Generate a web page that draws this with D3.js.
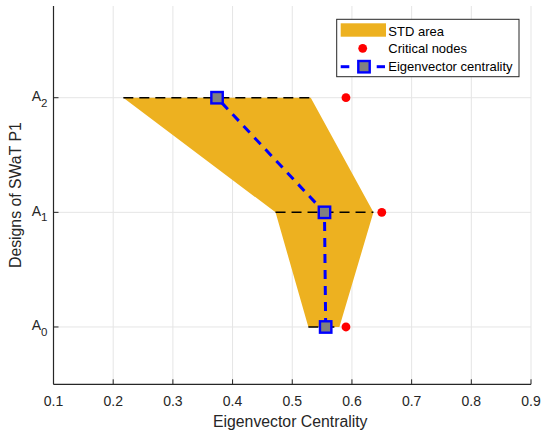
<!DOCTYPE html>
<html>
<head>
<meta charset="utf-8">
<script src="https://cdn.jsdelivr.net/npm/d3@7"></script>
<style>
  html, body { margin: 0; padding: 0; background: #fff; }
  svg { display: block; font-family: "Liberation Sans", Arial, Helvetica, sans-serif; }
</style>
</head>
<body>
<svg id="chart" width="544" height="435"></svg>
<script>
// ---- data ----
const designLevels = [0, 1, 2];
const designBase = ["A", "A", "A"];
const designSub = ["0", "1", "2"];
const meanEC = [0.556, 0.554, 0.374];        // Eigenvector centrality (mean)
const stdLow = [0.527, 0.472, 0.217];        // mean - std
const stdHigh = [0.579, 0.636, 0.531];       // mean + std
const criticalEC = [0.59, 0.65, 0.59];       // Critical nodes
const xTicks = [0.1, 0.2, 0.3, 0.4, 0.5, 0.6, 0.7, 0.8, 0.9];
const xDomain = [0.1, 0.9];
const yDomain = [-0.5, 2.8];
const legendLabels = ["STD area", "Critical nodes", "Eigenvector centrality"];

(function () {
// ---- layout ----
const svg = d3.select("#chart");
const pL = 53.5, pR = 531, pT = 6, pB = 384.3;
const x = d3.scaleLinear().domain(xDomain).range([pL, pR]);
const y = d3.scaleLinear().domain(yDomain).range([pB, pT]);
const textColor = "#262626";
const gridColor = "#e5e5e5";
const stdColor = "#EDB120";

// grid
const grid = svg.append("g");
grid.selectAll(".gx").data(xTicks).enter().append("line")
  .attr("x1", d => x(d)).attr("x2", d => x(d))
  .attr("y1", pT).attr("y2", pB)
  .attr("stroke", gridColor).attr("stroke-width", 1);
grid.selectAll(".gy").data(designLevels).enter().append("line")
  .attr("x1", pL).attr("x2", pR)
  .attr("y1", d => y(d)).attr("y2", d => y(d))
  .attr("stroke", gridColor).attr("stroke-width", 1);

// STD area polygon
const polyPts = designLevels.map((d, i) => [x(stdLow[i]), y(d)])
  .concat(designLevels.slice().reverse().map(d => [x(stdHigh[d]), y(d)]));
svg.append("path")
  .attr("d", d3.line()(polyPts) + "Z")
  .attr("fill", stdColor).attr("stroke", "none");

// black dashed std lines
svg.append("g").selectAll("line").data(designLevels).enter().append("line")
  .attr("x1", (d, i) => x(stdLow[i])).attr("x2", (d, i) => x(stdHigh[i]))
  .attr("y1", d => y(d)).attr("y2", d => y(d))
  .attr("stroke", "#000").attr("stroke-width", 1.5)
  .attr("stroke-dasharray", "10,6");

// blue dashed mean line
svg.append("path")
  .attr("d", d3.line().x((d, i) => x(meanEC[i])).y(d => y(d))(designLevels))
  .attr("fill", "none").attr("stroke", "#0000ff").attr("stroke-width", 3)
  .attr("stroke-dasharray", "9,7");

// square markers
const sq = 11.4;
svg.append("g").selectAll("rect").data(designLevels).enter().append("rect")
  .attr("x", (d, i) => x(meanEC[i]) - sq / 2)
  .attr("y", d => y(d) - sq / 2)
  .attr("width", sq).attr("height", sq)
  .attr("fill", "#808080").attr("stroke", "#0000ff").attr("stroke-width", 2.4);

// critical nodes
svg.append("g").selectAll("circle").data(designLevels).enter().append("circle")
  .attr("cx", (d, i) => x(criticalEC[i])).attr("cy", d => y(d))
  .attr("r", 4.4).attr("fill", "#ff0000");

// axes lines
svg.append("line").attr("x1", pL).attr("x2", pL).attr("y1", pT).attr("y2", pB)
  .attr("stroke", textColor).attr("stroke-width", 1.2);
svg.append("line").attr("x1", pL).attr("x2", pR).attr("y1", pB).attr("y2", pB)
  .attr("stroke", textColor).attr("stroke-width", 1.2);

// x ticks (inward) and labels
svg.append("g").selectAll("line").data(xTicks).enter().append("line")
  .attr("x1", d => x(d)).attr("x2", d => x(d))
  .attr("y1", pB).attr("y2", pB - 5)
  .attr("stroke", textColor).attr("stroke-width", 1);
svg.append("g").selectAll("text").data(xTicks).enter().append("text")
  .attr("x", d => x(d)).attr("y", 406)
  .attr("text-anchor", "middle").attr("font-size", 14).attr("fill", textColor)
  .text(d => d3.format(".1f")(d));

// y ticks (inward) and labels
svg.append("g").selectAll("line").data(designLevels).enter().append("line")
  .attr("x1", pL).attr("x2", pL + 5)
  .attr("y1", d => y(d)).attr("y2", d => y(d))
  .attr("stroke", textColor).attr("stroke-width", 1);
const yl = svg.append("g").selectAll("text").data(designLevels).enter().append("text")
  .attr("x", 47.5).attr("y", d => y(d) + 3.5)
  .attr("text-anchor", "end").attr("font-size", 14).attr("fill", textColor);
yl.append("tspan").text((d, i) => designBase[i]);
yl.append("tspan").attr("font-size", 11.5).attr("dy", 5.5).text((d, i) => designSub[i]);

// axis titles
svg.append("text").attr("x", (pL + pR) / 2 - 2).attr("y", 427.3)
  .attr("text-anchor", "middle").attr("font-size", 15.8).attr("fill", textColor)
  .text("Eigenvector Centrality");
svg.append("text").attr("transform", `translate(21,${(pT + pB) / 2}) rotate(-90)`)
  .attr("text-anchor", "middle").attr("font-size", 15.8).attr("fill", textColor)
  .text("Designs of SWaT P1");

// legend
const lg = svg.append("g");
lg.append("rect").attr("x", 336.7).attr("y", 19.3).attr("width", 182.3).attr("height", 57.4)
  .attr("fill", "#fff").attr("stroke", textColor).attr("stroke-width", 1);
lg.append("rect").attr("x", 340.7).attr("y", 23.3).attr("width", 45.3).attr("height", 13.4)
  .attr("fill", stdColor);
lg.append("circle").attr("cx", 362.7).attr("cy", 48.3).attr("r", 4.4).attr("fill", "#ff0000");
lg.append("line").attr("x1", 340.7).attr("x2", 349.3).attr("y1", 66.7).attr("y2", 66.7)
  .attr("stroke", "#0000ff").attr("stroke-width", 3);
lg.append("line").attr("x1", 376.7).attr("x2", 385).attr("y1", 66.7).attr("y2", 66.7)
  .attr("stroke", "#0000ff").attr("stroke-width", 3);
lg.append("rect").attr("x", 364 - sq / 2).attr("y", 66.7 - sq / 2).attr("width", sq).attr("height", sq)
  .attr("fill", "#808080").attr("stroke", "#0000ff").attr("stroke-width", 2.4);
const legendY = [35.5, 53.2, 71.3];
lg.selectAll("text.lab").data(legendLabels).enter().append("text")
  .attr("x", 388.3).attr("y", (d, i) => legendY[i])
  .attr("font-size", 13).attr("fill", "#000").text(d => d);
})();
</script>
</body>
</html>
